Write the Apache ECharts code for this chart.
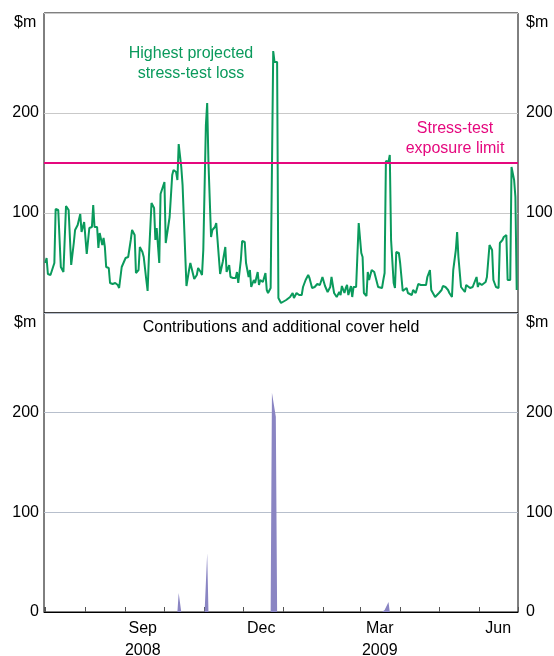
<!DOCTYPE html>
<html>
<head>
<meta charset="utf-8">
<script src="https://cdn.jsdelivr.net/npm/echarts@6/dist/echarts.min.js"></script>
<style>
  html, body { margin: 0; padding: 0; background: #fff; }
  #chart { width: 554px; height: 656px; }
</style>
</head>
<body>
<div id="chart"></div>
<script>
// highest projected stress-test loss, $m
var lossDates = [
  '2008-07-01','2008-07-02','2008-07-03','2008-07-05','2008-07-06','2008-07-08','2008-07-09','2008-07-11','2008-07-12','2008-07-13',
  '2008-07-15','2008-07-17','2008-07-18','2008-07-19','2008-07-21','2008-07-23','2008-07-24','2008-07-26','2008-07-28','2008-07-29',
  '2008-07-31','2008-08-02','2008-08-03','2008-08-04','2008-08-06','2008-08-07','2008-08-08','2008-08-10','2008-08-11','2008-08-12',
  '2008-08-14','2008-08-15','2008-08-16','2008-08-17','2008-08-19','2008-08-20','2008-08-22','2008-08-24','2008-08-26','2008-08-27',
  '2008-08-29','2008-08-30','2008-09-01','2008-09-03','2008-09-05','2008-09-06','2008-09-08','2008-09-09','2008-09-11','2008-09-12',
  '2008-09-14','2008-09-15','2008-09-17','2008-09-18','2008-09-19','2008-09-21','2008-09-23','2008-09-24','2008-09-25','2008-09-27',
  '2008-09-28','2008-09-29','2008-10-01','2008-10-02','2008-10-05','2008-10-07','2008-10-08','2008-10-10','2008-10-11','2008-10-12',
  '2008-10-14','2008-10-15','2008-10-18','2008-10-20','2008-10-21','2008-10-22','2008-10-24','2008-10-26','2008-10-27','2008-10-29',
  '2008-10-30','2008-10-31','2008-11-02','2008-11-03','2008-11-04','2008-11-06','2008-11-07','2008-11-09','2008-11-10','2008-11-12',
  '2008-11-13','2008-11-15','2008-11-16','2008-11-17','2008-11-18','2008-11-20','2008-11-21','2008-11-23','2008-11-25','2008-11-26',
  '2008-11-27','2008-11-29','2008-11-30','2008-12-02','2008-12-03','2008-12-05','2008-12-06','2008-12-07','2008-12-09','2008-12-10',
  '2008-12-12','2008-12-13','2008-12-14','2008-12-16','2008-12-18','2008-12-19','2008-12-20','2008-12-22','2008-12-24','2008-12-25',
  '2008-12-27','2008-12-28','2008-12-30','2008-12-31','2009-01-03','2009-01-04','2009-01-06','2009-01-08','2009-01-09','2009-01-11',
  '2009-01-13','2009-01-15','2009-01-16','2009-01-18','2009-01-20','2009-01-21','2009-01-23','2009-01-25','2009-01-27','2009-01-29',
  '2009-01-30','2009-01-31','2009-02-02','2009-02-04','2009-02-06','2009-02-07','2009-02-08','2009-02-09','2009-02-11','2009-02-13',
  '2009-02-14','2009-02-15','2009-02-17','2009-02-18','2009-02-19','2009-02-20','2009-02-22','2009-02-23','2009-02-24','2009-02-26',
  '2009-02-28','2009-03-02','2009-03-03','2009-03-04','2009-03-06','2009-03-07','2009-03-08','2009-03-10','2009-03-12','2009-03-13',
  '2009-03-15','2009-03-16','2009-03-18','2009-03-19','2009-03-20','2009-03-21','2009-03-23','2009-03-24','2009-03-25','2009-03-27',
  '2009-03-28','2009-03-29','2009-03-31','2009-04-01','2009-04-03','2009-04-04','2009-04-06','2009-04-07','2009-04-08','2009-04-10',
  '2009-04-11','2009-04-13','2009-04-14','2009-04-15','2009-04-17','2009-04-19','2009-04-21','2009-04-22','2009-04-24','2009-04-25',
  '2009-04-26','2009-04-28','2009-04-29','2009-05-01','2009-05-03','2009-05-04','2009-05-06','2009-05-08','2009-05-09','2009-05-11',
  '2009-05-12','2009-05-14','2009-05-15','2009-05-16','2009-05-18','2009-05-19','2009-05-21','2009-05-22','2009-05-23','2009-05-25',
  '2009-05-27','2009-05-28','2009-05-30','2009-05-31','2009-06-01','2009-06-03','2009-06-04','2009-06-06','2009-06-07','2009-06-09',
  '2009-06-11','2009-06-12','2009-06-14','2009-06-16','2009-06-17','2009-06-19','2009-06-20','2009-06-22','2009-06-23','2009-06-25',
  '2009-06-26','2009-06-28','2009-06-29','2009-06-30'
];
var lossValues = [
  50, 55, 39, 38, 36, 50, 104, 103, 104, 46,
  41, 107, 106, 103, 48, 70, 83, 88, 99, 81,
  91, 59, 61, 85, 86, 108, 86, 86, 65, 80,
  68, 75, 66, 46, 45, 30, 29, 30, 28, 25,
  46, 48, 55, 56, 73, 83, 78, 40, 43, 66,
  61, 56, 33, 22, 56, 110, 105, 73, 85, 50,
  119, 121, 131, 70, 96, 138, 143, 141, 133, 169,
  146, 128, 27, 43, 50, 48, 34, 38, 45, 41,
  38, 63, 188, 210, 150, 76, 83, 86, 90, 56,
  39, 51, 52, 66, 41, 48, 36, 35, 35, 41,
  30, 53, 72, 71, 50, 36, 43, 26, 33, 30,
  41, 28, 33, 31, 40, 23, 20, 25, 262, 251,
  251, 15, 10, 8, 13, 14, 16, 20, 15, 20,
  18, 18, 26, 33, 38, 35, 25, 26, 29, 28,
  26, 36, 27, 21, 26, 36, 37, 20, 16, 21,
  18, 27, 20, 25, 28, 18, 27, 16, 26, 26,
  90, 60, 56, 20, 17, 41, 33, 43, 41, 36,
  26, 28, 25, 33, 40, 152, 151, 158, 73, 30,
  25, 61, 60, 50, 22, 20, 25, 20, 21, 18,
  23, 20, 18, 29, 28, 28, 28, 36, 43, 23,
  21, 16, 14, 20, 23, 27, 26, 23, 20, 16,
  43, 63, 81, 56, 26, 28, 21, 28, 26, 25,
  26, 28, 36, 26, 30, 28, 26, 31, 36, 68,
  63, 33, 26, 25, 70, 73, 76, 78, 33, 33,
  146, 133, 116, 23
];
var limitValue = 150;

// contributions and additional cover held, $m
var coverDates = [
  '2008-07-01','2008-10-11','2008-10-12','2008-10-14','2008-11-01','2008-11-03','2008-11-04',
  '2008-12-22','2008-12-23','2008-12-26','2008-12-27','2009-03-18','2009-03-20','2009-03-23','2009-03-24','2009-06-30'
];
var coverValues = [0, 0, 19, 0, 0, 59, 0, 0, 220, 196, 0, 0, 2, 10, 0, 0];

var months = ['Jul','Aug','Sep','Oct','Nov','Dec','Jan','Feb','Mar','Apr','May','Jun'];
var monthLabels = { Sep: 'Sep\n2008', Dec: 'Dec', Mar: 'Mar\n2009', Jun: 'Jun' };

var green = '#0a9a5c';
var pink = '#e5087e';
var purple = '#8a85c3';
var font = 'Liberation Sans, Arial, Helvetica, sans-serif';

function zip(d, v) {
  var out = [];
  for (var i = 0; i < d.length; i++) out.push([d[i], v[i]]);
  return out;
}

var chart = echarts.init(document.getElementById('chart'));

var yLabel = { fontFamily: font, fontSize: 16, color: '#000' };

var option = {
  animation: false,
  grid: [
    { left: 44, right: 36, top: 13, height: 300, show: true, borderColor: '#000', borderWidth: 1, outerBoundsMode: 'none', containLabel: false },
    { left: 44, right: 36, top: 313, height: 299, show: true, borderColor: '#000', borderWidth: 1, outerBoundsMode: 'none', containLabel: false }
  ],
  xAxis: [
    { type: 'time', gridIndex: 0, min: '2008-06-30', max: '2009-07-01', show: false },
    {
      type: 'time', gridIndex: 1, min: '2008-06-30', max: '2009-07-01', splitNumber: 12,
      axisLine: { show: true, lineStyle: { color: '#000', width: 1 } },
      axisTick: { show: true, inside: true, length: 5, lineStyle: { color: '#555' } },
      axisLabel: { show: false }, splitLine: { show: false }, minorTick: { show: false }
    },
    {
      type: 'category', gridIndex: 1, data: months, boundaryGap: true, position: 'bottom',
      axisLine: { show: false }, axisTick: { show: false },
      axisLabel: {
        interval: 0, margin: 6, fontFamily: font, fontSize: 16, color: '#000', lineHeight: 22,
        formatter: function (m) { return monthLabels[m] || ''; }
      }
    }
  ],
  yAxis: [
    {
      type: 'value', gridIndex: 0, min: 0, max: 300, interval: 100, position: 'left',
      axisLine: { show: false }, axisTick: { show: false },
      axisLabel: Object.assign({ margin: 5, formatter: function (v) { return (v === 100 || v === 200) ? v : ''; } }, yLabel),
      splitLine: { lineStyle: { color: '#c9c9c9', width: 1 } }
    },
    {
      type: 'value', gridIndex: 0, min: 0, max: 300, interval: 100, position: 'right',
      axisLine: { show: false }, axisTick: { show: false },
      axisLabel: Object.assign({ margin: 8, formatter: function (v) { return (v === 100 || v === 200) ? v : ''; } }, yLabel),
      splitLine: { show: false }
    },
    {
      type: 'value', gridIndex: 1, min: 0, max: 300, interval: 100, position: 'left',
      axisLine: { show: false }, axisTick: { show: false },
      axisLabel: Object.assign({ margin: 5, formatter: function (v) { return v < 300 ? v : ''; } }, yLabel),
      splitLine: { lineStyle: { color: '#b7bfcc', width: 1 } }
    },
    {
      type: 'value', gridIndex: 1, min: 0, max: 300, interval: 100, position: 'right',
      axisLine: { show: false }, axisTick: { show: false },
      axisLabel: Object.assign({ margin: 8, formatter: function (v) { return v < 300 ? v : ''; } }, yLabel),
      splitLine: { show: false }
    }
  ],
  series: [
    {
      name: 'Highest projected stress-test loss', type: 'line', xAxisIndex: 0, yAxisIndex: 0,
      data: zip(lossDates, lossValues), showSymbol: false, symbol: 'none',
      lineStyle: { color: green, width: 2 },
      markLine: {
        silent: true, symbol: 'none', label: { show: false },
        lineStyle: { color: pink, width: 2, type: 'solid' },
        data: [{ yAxis: limitValue }]
      }
    },
    {
      name: 'Contributions and additional cover held', type: 'line', xAxisIndex: 1, yAxisIndex: 2,
      data: zip(coverDates, coverValues), showSymbol: false, symbol: 'none',
      lineStyle: { width: 0, color: purple },
      areaStyle: { color: purple, opacity: 1 }
    }
  ],
  graphic: [
    { type: 'text', left: 14, top: 15, style: { text: '$m', font: '16px ' + font, fill: '#000' } },
    { type: 'text', left: 526, top: 15, style: { text: '$m', font: '16px ' + font, fill: '#000' } },
    { type: 'text', left: 14, top: 315, style: { text: '$m', font: '16px ' + font, fill: '#000' } },
    { type: 'text', left: 526, top: 315, style: { text: '$m', font: '16px ' + font, fill: '#000' } },
    { type: 'text', x: 191, y: 44, style: { text: 'Highest projected\nstress-test loss', font: '16px ' + font, fill: green, align: 'center', lineHeight: 20 } },
    { type: 'text', x: 455, y: 119, style: { text: 'Stress-test\nexposure limit', font: '16px ' + font, fill: pink, align: 'center', lineHeight: 20 } },
    { type: 'text', x: 281, y: 320, style: { text: 'Contributions and additional cover held', font: '16px ' + font, fill: '#000', align: 'center' } }
  ]
};

chart.setOption(option);
</script>
</body>
</html>
